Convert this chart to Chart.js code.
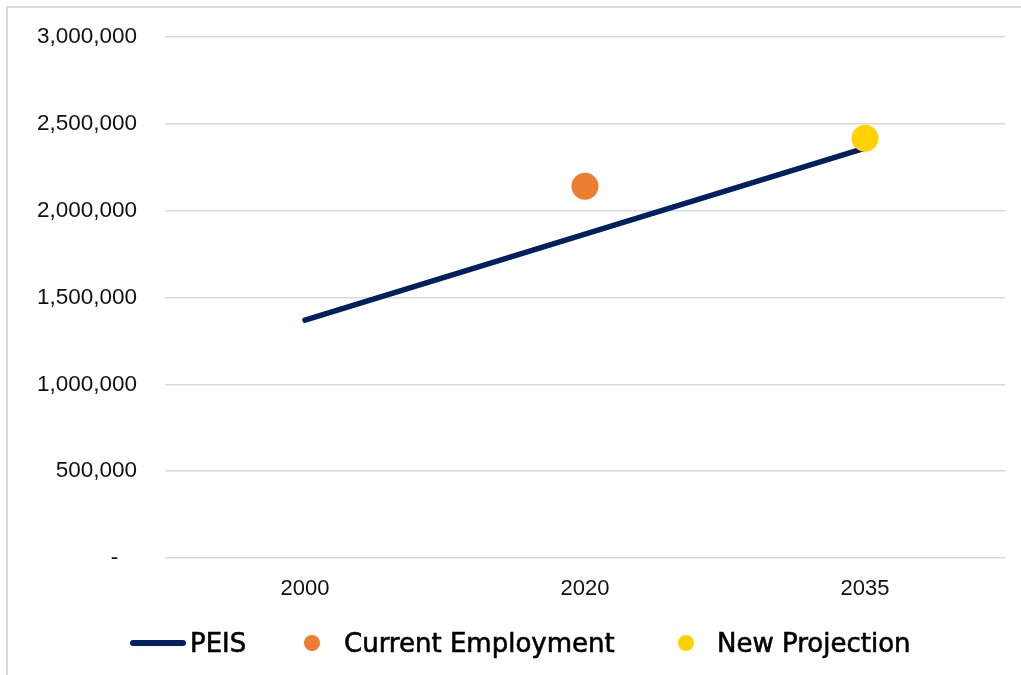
<!DOCTYPE html>
<html>
<head>
<meta charset="utf-8">
<title>Employment</title>
<script src="https://cdn.jsdelivr.net/npm/chart.js@4.4.1/dist/chart.umd.min.js"></script>
<style>
  html, body { margin: 0; padding: 0; background: #fff; overflow: hidden; }
  #wrap { position: relative; width: 1021px; height: 675px; }
  #frame {
    position: absolute; left: 6px; top: 6px; width: 1100px; height: 800px;
    border-left: 2px solid #d9d9d9; border-top: 2px solid #d9d9d9;
  }
  #chart { position: absolute; left: 0; top: 0; }
  .legend-item {
    position: absolute; top: 626px; height: 34px; line-height: 34px;
    font-family: "DejaVu Sans", sans-serif; font-size: 26px; color: #000;
    -webkit-text-stroke: 0.6px #000;
    white-space: nowrap;
  }
  .swatch { position: absolute; }
</style>
</head>
<body>
<div id="wrap">
  <div id="frame"></div>
  <canvas id="chart" width="1021" height="675"></canvas>
  <div id="legend"></div>
</div>
<script>
// categories and series
const years = ['2000', '2020', '2035'];
const peis = [1370000, 1865000, 2360000];
const currentEmployment = [null, 2141000, null];
const newProjection = [null, null, 2417000];

// y axis tick labels, 0 .. 3,000,000 in steps of 500,000
const yTickLabels = ['-', '500,000', '1,000,000', '1,500,000', '2,000,000', '2,500,000', '3,000,000'];

const navy = '#002060';
const orange = '#ED7D31';
const yellow = '#FFD200';

const ctx = document.getElementById('chart').getContext('2d');

const employmentChart = new Chart(ctx, {
    type: 'line',
    data: {
        labels: years,
        datasets: [
            {
                label: 'PEIS',
                data: peis,
                borderColor: navy,
                backgroundColor: navy,
                borderWidth: 5.5,
                borderCapStyle: 'round',
                pointRadius: 0,
                pointHoverRadius: 0,
                order: 2
            },
            {
                label: 'Current Employment',
                data: currentEmployment,
                showLine: false,
                pointRadius: 13.5,
                pointHoverRadius: 13.5,
                pointBorderWidth: 0,
                pointBackgroundColor: orange,
                backgroundColor: orange,
                order: 1
            },
            {
                label: 'New Projection',
                data: newProjection,
                showLine: false,
                pointRadius: 13.5,
                pointHoverRadius: 13.5,
                pointBorderWidth: 0,
                pointBackgroundColor: yellow,
                backgroundColor: yellow,
                order: 0
            }
        ]
    },
    options: {
        responsive: false,
        animation: false,
        devicePixelRatio: 1,
        layout: { padding: { top: 37, right: 16, bottom: 0, left: 0 } },
        plugins: {
            legend: { display: false },
            tooltip: { enabled: false }
        },
        scales: {
            x: {
                offset: true,
                grid: { display: false, drawTicks: false },
                border: { display: false },
                ticks: {
                    color: '#111',
                    padding: 18,
                    font: { family: '"Liberation Sans", Arial, sans-serif', size: 22 }
                },
                afterFit: scale => { scale.height = 117; }
            },
            y: {
                min: 0,
                max: 3000000,
                grid: { color: '#d9d9d9', lineWidth: 1.6, drawTicks: false },
                border: { display: false },
                ticks: {
                    stepSize: 500000,
                    color: '#111',
                    padding: 28,
                    font: { family: '"Liberation Sans", Arial, sans-serif', size: 22.5 },
                    callback: (value, index) => index === 0 ? yTickLabels[0] + '\u00a0\u00a0\u00a0' : yTickLabels[index]
                },
                afterFit: scale => {
                    // fixed axis width; plot top comes from layout padding only
                    scale.width = 165;
                    scale.paddingTop = 0;
                    scale.paddingBottom = 0;
                }
            }
        }
    }
});

// legend below the plot
const legendItems = [
    { text: 'PEIS', kind: 'line', color: navy, symbolLeft: 130, textLeft: 190 },
    { text: 'Current Employment', kind: 'dot', color: orange, symbolLeft: 304, textLeft: 344 },
    { text: 'New Projection', kind: 'dot', color: yellow, symbolLeft: 678, textLeft: 717 }
];

const legend = document.getElementById('legend');
legendItems.forEach(item => {
    const sw = document.createElement('div');
    sw.className = 'swatch';
    sw.style.background = item.color;
    if (item.kind === 'line') {
        Object.assign(sw.style, { left: item.symbolLeft + 'px', top: '640px', width: '56px', height: '5.5px', borderRadius: '3px' });
    } else {
        Object.assign(sw.style, { left: item.symbolLeft + 'px', top: '635px', width: '16px', height: '16px', borderRadius: '50%' });
    }
    legend.appendChild(sw);

    const label = document.createElement('div');
    label.className = 'legend-item';
    label.style.left = item.textLeft + 'px';
    label.textContent = item.text;
    legend.appendChild(label);
});
</script>
</body>
</html>
